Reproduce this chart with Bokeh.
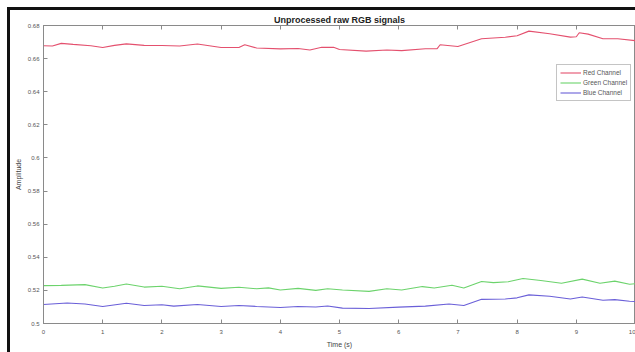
from bokeh.plotting import figure
from bokeh.models import LinearAxis, Legend, LegendItem, FixedTicker
from bokeh.embed import file_html
from bokeh.resources import INLINE

# ---- data ----
red_t = [0.0, 0.15, 0.3, 0.5, 0.8, 1.0, 1.2, 1.4, 1.7, 2.0, 2.3, 2.6, 3.0, 3.3, 3.4, 3.6,
         4.0, 4.3, 4.5, 4.7, 4.9, 5.0, 5.45, 5.8, 6.05, 6.45, 6.65, 6.7, 7.0, 7.4, 7.8,
         8.0, 8.2, 8.55, 8.9, 9.0, 9.05, 9.2, 9.45, 9.7, 10.0]
red_v = [0.6678, 0.6676, 0.6692, 0.6686, 0.6678, 0.6667, 0.6680, 0.6689, 0.6680, 0.6679,
         0.6676, 0.6688, 0.6667, 0.6667, 0.6684, 0.6664, 0.6659, 0.6661, 0.6652, 0.6669,
         0.6668, 0.6655, 0.6645, 0.6652, 0.6648, 0.6660, 0.6660, 0.6684, 0.6673, 0.6720,
         0.6729, 0.6738, 0.6766, 0.6750, 0.6730, 0.6732, 0.6756, 0.6748, 0.6720, 0.6720,
         0.6708]

green_t = [0.0, 0.3, 0.7, 1.0, 1.2, 1.4, 1.7, 2.0, 2.3, 2.6, 3.0, 3.3, 3.6, 3.8, 4.0, 4.3,
           4.6, 4.8, 5.05, 5.5, 5.8, 6.05, 6.4, 6.6, 6.9, 7.1, 7.4, 7.6, 7.85, 8.1, 8.4,
           8.75, 9.1, 9.4, 9.65, 9.9, 10.0]
green_v = [0.5229, 0.5230, 0.5235, 0.5214, 0.5225, 0.5239, 0.5220, 0.5225, 0.5210, 0.5227,
           0.5212, 0.5219, 0.5210, 0.5215, 0.5202, 0.5212, 0.5200, 0.5210, 0.5202, 0.5194,
           0.5210, 0.5202, 0.5223, 0.5214, 0.5231, 0.5214, 0.5254, 0.5247, 0.5252, 0.5272,
           0.5260, 0.5243, 0.5268, 0.5243, 0.5256, 0.5237, 0.5240]

blue_t = [0.0, 0.4, 0.7, 1.0, 1.4, 1.7, 2.0, 2.2, 2.6, 3.0, 3.3, 3.6, 4.0, 4.3, 4.6, 4.8,
          5.05, 5.5, 6.0, 6.45, 6.85, 7.1, 7.4, 7.8, 8.0, 8.2, 8.55, 8.9, 9.1, 9.45, 9.65,
          9.9, 10.0]
blue_v = [0.5115, 0.5124, 0.5118, 0.5103, 0.5122, 0.5109, 0.5113, 0.5105, 0.5115, 0.5103,
          0.5109, 0.5103, 0.5097, 0.5103, 0.5100, 0.5106, 0.5093, 0.5091, 0.5099, 0.5105,
          0.5118, 0.5109, 0.5146, 0.5148, 0.5155, 0.5173, 0.5165, 0.5148, 0.5160, 0.5140,
          0.5144, 0.5134, 0.5133]

x_ticks = [0, 1, 2, 3, 4, 5, 6, 7, 8, 9, 10]
y_ticks = [0.5, 0.52, 0.54, 0.56, 0.58, 0.6, 0.62, 0.64, 0.66, 0.68]
y_tick_labels = ["0.5", "0.52", "0.54", "0.56", "0.58", "0.6", "0.62", "0.64", "0.66", "0.68"]

series_names = ["Red Channel", "Green Channel", "Blue Channel"]
series_colors = ["#e4506e", "#6cd36c", "#6a5fd8"]

FONT = "Liberation Sans"
AX = "#8a8a8a"
TXT = "#555555"

p = figure(width=635, height=352, output_backend="svg", toolbar_location=None,
           x_range=(0, 10), y_range=(0.5, 0.68),
           title="Unprocessed raw RGB signals",
           min_border_left=43, min_border_right=0, min_border_top=25, min_border_bottom=29)
# dark scan frame near the left and top edges of the picture, painted as inset
# shadows under a transparent plot border
p.styles = {"background-color": "white",
            "box-shadow": "inset 7px 7px 0px 0px #ffffff, inset 10px 10px 0px 0px #111111"}
p.border_fill_alpha = 0

p.title.align = "center"
p.title.text_font = FONT
p.title.text_font_size = "9px"
p.title.text_font_style = "bold"
p.title.text_color = "#222222"
p.title.standoff = 1
p.title.offset = 0

p.xgrid.visible = False
p.ygrid.visible = False
p.outline_line_color = AX
p.outline_line_width = 1
p.background_fill_color = "white"

renderers = []
for t, v, c in [(red_t, red_v, series_colors[0]), (green_t, green_v, series_colors[1]),
                (blue_t, blue_v, series_colors[2])]:
    renderers.append(p.line(t, v, line_color=c, line_width=1.1))

def style_axis(ax):
    ax.axis_line_color = AX
    ax.major_tick_line_color = AX
    ax.major_tick_in = 4
    ax.major_tick_out = 0
    ax.minor_tick_line_color = None
    ax.major_label_text_font = FONT
    ax.major_label_text_font_size = "6px"
    ax.major_label_text_color = TXT
    ax.axis_label_text_font = FONT
    ax.axis_label_text_font_size = "7px"
    ax.axis_label_text_font_style = "normal"
    ax.axis_label_text_color = "#444444"

xa = p.xaxis[0]
style_axis(xa)
xa.ticker = FixedTicker(ticks=x_ticks)
xa.axis_label = "Time (s)"
xa.major_label_standoff = 6
xa.axis_label_standoff = 4

ya = p.yaxis[0]
style_axis(ya)
ya.ticker = FixedTicker(ticks=y_ticks)
ya.major_label_overrides = {tk: lb for tk, lb in zip(y_ticks, y_tick_labels)}
ya.axis_label = "Amplitude"
ya.major_label_standoff = 4
ya.axis_label_standoff = 3

top = LinearAxis(ticker=FixedTicker(ticks=x_ticks))
style_axis(top)
top.major_label_overrides = {tk: "" for tk in x_ticks}
top.major_label_standoff = 0
p.add_layout(top, "above")

legend = Legend(items=[LegendItem(label=n, renderers=[r]) for n, r in zip(series_names, renderers)],
                location=(513, 222))
legend.label_text_font = FONT
legend.label_text_font_size = "6.5px"
legend.label_text_color = TXT
legend.label_height = 9
legend.glyph_height = 9
legend.glyph_width = 21
legend.label_standoff = 2
legend.spacing = 1
legend.padding = 3
legend.margin = 0
legend.border_line_color = AX
legend.border_line_width = 1
legend.background_fill_alpha = 1
p.add_layout(legend, "center")

open("out.html", "w").write(file_html(p, INLINE))
